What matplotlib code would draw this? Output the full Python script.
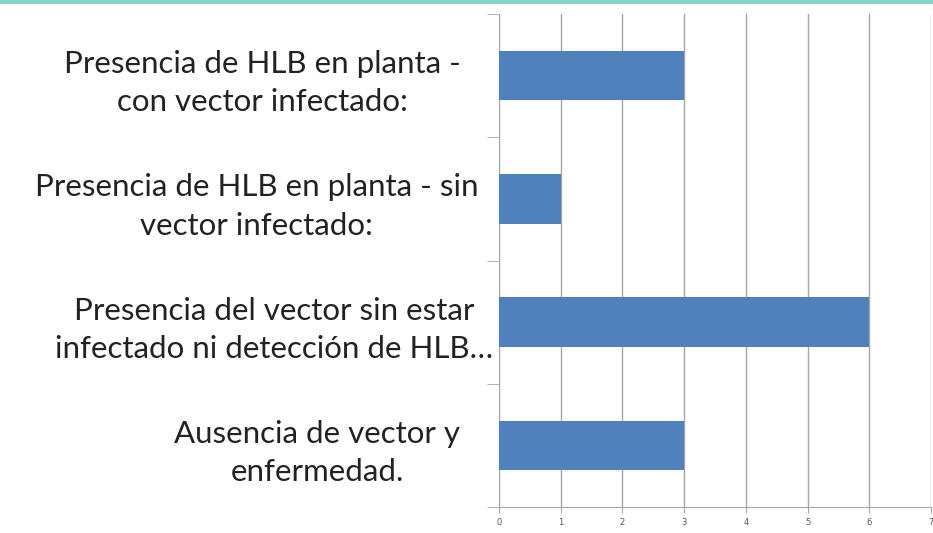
import matplotlib.pyplot as plt
from matplotlib.lines import Line2D
from matplotlib.transforms import ScaledTranslation
import numpy as np

# Categorias (de arriba hacia abajo) y valores
categorias = [
    "Presencia de HLB en planta -\ncon vector infectado:",
    "Presencia de HLB en planta - sin\nvector infectado:",
    "Presencia del vector sin estar\ninfectado ni detección de HLB…",
    "Ausencia de vector y\nenfermedad.",
]
valores = [3, 1, 6, 3]
xticks = [0, 1, 2, 3, 4, 5, 6, 7]

fig = plt.figure(figsize=(9.33, 5.33), dpi=100)
ax = fig.add_axes([499 / 933, 26 / 533, 432 / 933, 493 / 533])

y = np.arange(len(categorias))[::-1]
ax.barh(y, valores, height=0.4, color="#4f81bd", zorder=3)

ax.set_xlim(0, 7)
ax.set_ylim(-0.5, len(categorias) - 0.5)
ax.set_xticks(xticks)
ax.set_xticklabels([str(t) for t in xticks], fontsize=6, color="#555555")
ax.xaxis.grid(True, color="#a6a6a6", linewidth=1, zorder=0)

ax.set_yticks(y)
ax.set_yticklabels(categorias, fontsize=22.5, family="Lato", linespacing=1.45,
                   multialignment="center", color="#222222")
ax.set_yticks(np.arange(-0.5, len(categorias)), minor=True)
ax.tick_params(axis="y", which="major", length=0, pad=4)
ax.tick_params(axis="y", which="minor", length=9, color="#a6a6a6")
ax.tick_params(axis="x", length=4, color="#a6a6a6", pad=4)

# desplazamiento de cada etiqueta como en el original (cajas de texto de Excel)
desplaz = [-33, -15, 0, -33]
for lab, dx in zip(ax.get_yticklabels(), desplaz):
    lab.set_transform(lab.get_transform() + ScaledTranslation(dx / 100, 0, fig.dpi_scale_trans))

for s in ["top", "right"]:
    ax.spines[s].set_visible(False)
ax.spines["left"].set_color("#a6a6a6")
ax.spines["bottom"].set_color("#a6a6a6")

# linea turquesa superior
fig.add_artist(Line2D([0, 1], [0.996, 0.996], color="#7fd6c9", linewidth=3,
                      transform=fig.transFigure))

fig.savefig("out.png", dpi=100)
